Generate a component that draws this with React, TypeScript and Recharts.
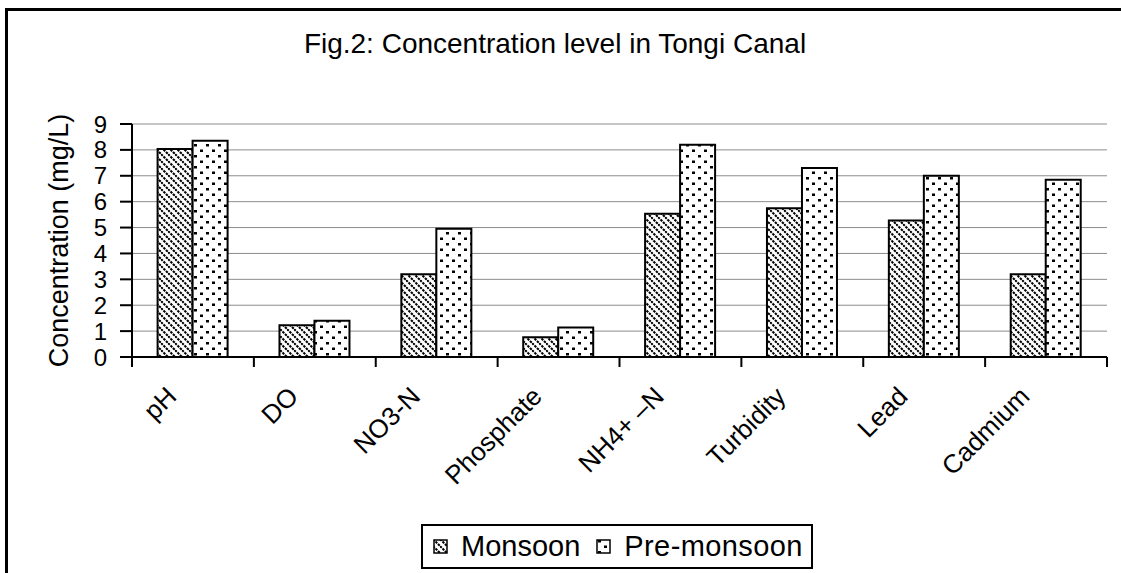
import React from 'react';
import { BarChart, Bar, XAxis, YAxis, CartesianGrid } from 'recharts';

const categories = ['pH', 'DO', 'NO3-N', 'Phosphate', 'NH4+ \u2013N', 'Turbidity', 'Lead', 'Cadmium'];
const monsoon = [8.03, 1.23, 3.2, 0.76, 5.53, 5.75, 5.27, 3.2];
const preMonsoon = [8.35, 1.4, 4.95, 1.14, 8.2, 7.3, 7.0, 6.85];
const yTicks = [0, 1, 2, 3, 4, 5, 6, 7, 8, 9];

const data = categories.map((name, i) => ({ name, monsoon: monsoon[i], pre: preMonsoon[i] }));

const FONT = '"Liberation Sans", Arial, sans-serif';

const Patterns = ({ prefix }: { prefix: string }) => (
  <defs>
    <pattern id={`${prefix}-diag`} patternUnits="userSpaceOnUse" width="7" height="7">
      <rect width="7" height="7" fill="#fff" />
      <path d="M0,0 L7,7 M-2,5 L2,9 M5,-2 L9,2" stroke="#000" strokeWidth="2" strokeDasharray="2.5 1" />
    </pattern>
    <pattern id={`${prefix}-dots`} patternUnits="userSpaceOnUse" width="12" height="11">
      <rect width="12" height="11" fill="#fff" />
      <rect x="2" y="1" width="3" height="2.5" fill="#000" />
      <rect x="8" y="6.5" width="3" height="2.5" fill="#000" />
    </pattern>
  </defs>
);

const XTick = (props: any) => {
  const { x, y, payload, index, visibleTicksCount, width } = props;
  const count = visibleTicksCount || categories.length;
  const half = width ? width / count / 2 : 61;
  const tx = x - 15;
  const ty = y + 41;
  return (
    <g>
      <line x1={x - half} x2={x - half} y1={y} y2={y + 10} stroke="#000" strokeWidth={2} />
      {index === count - 1 && <line x1={x + half} x2={x + half} y1={y} y2={y + 10} stroke="#000" strokeWidth={2} />}
      <text x={tx} y={ty} transform={`rotate(-45 ${tx} ${ty})`} textAnchor="end" fontSize={26} fontFamily={FONT} fill="#000">
        {payload.value}
      </text>
    </g>
  );
};

const LegendIcon = ({ kind }: { kind: string }) => (
  <svg width="15" height="15" style={{ marginRight: 13, flex: 'none' }}>
    <Patterns prefix={`lg-${kind}`} />
    <rect x="1" y="1" width="13" height="13" fill={`url(#lg-${kind}-${kind})`} stroke="#000" strokeWidth="1.5" />
  </svg>
);

export default function App() {
  return (
    <div style={{ position: 'absolute', left: 0, top: 0, width: 1121, height: 573, overflow: 'hidden', background: '#fff' }}>
      <div style={{ position: 'absolute', left: 5, top: 8, width: 1140, height: 620, border: '3px solid #000', boxSizing: 'border-box' }} />
      <div style={{ position: 'absolute', left: 0, top: 28, width: 1110, textAlign: 'center', fontFamily: FONT, fontSize: 28, lineHeight: '32px', color: '#000' }}>
        Fig.2: Concentration level in Tongi Canal
      </div>
      <div style={{ position: 'absolute', left: 0, top: 0 }}>
        <BarChart width={1121} height={573} data={data} margin={{ top: 124, right: 14, left: 0, bottom: 0 }} barGap={0} barCategoryGap="21%">
          <Patterns prefix="ch" />
          <CartesianGrid xAxisId="main" yAxisId="left" horizontal vertical={false} stroke="#8c8c8c" strokeWidth={1} />
          <XAxis xAxisId="main" dataKey="name" height={216} interval={0} tick={<XTick />} tickSize={0} tickMargin={0} tickLine={false} axisLine={{ stroke: '#000', strokeWidth: 2 }} />
          <XAxis xAxisId="top" dataKey="name" orientation="top" height={0} tick={false} tickLine={false} axisLine={{ stroke: '#000', strokeWidth: 2 }} />
          <YAxis
            yAxisId="left"
            domain={[0, 9]}
            ticks={yTicks}
            interval={0}
            width={132}
            tickSize={12}
            tickMargin={13}
            tick={{ fontSize: 24, fontFamily: FONT, fill: '#000' }}
            tickLine={{ stroke: '#000', strokeWidth: 2 }}
            axisLine={{ stroke: '#000', strokeWidth: 2 }}
            label={{ value: 'Concentration (mg/L)', angle: -90, position: 'center', dx: -8, style: { fontSize: 27, fontFamily: FONT, fill: '#000' } }}
          />
          <YAxis yAxisId="right" orientation="right" domain={[0, 9]} width={0} tick={false} tickLine={false} axisLine={{ stroke: '#000', strokeWidth: 2 }} />
          <Bar xAxisId="main" yAxisId="left" dataKey="monsoon" fill="url(#ch-diag)" stroke="#000" strokeWidth={2} isAnimationActive={false} />
          <Bar xAxisId="main" yAxisId="left" dataKey="pre" fill="url(#ch-dots)" stroke="#000" strokeWidth={2} isAnimationActive={false} />
        </BarChart>
      </div>
      <div style={{ position: 'absolute', left: 421, top: 524, width: 392, height: 45, border: '2px solid #000', boxSizing: 'border-box', display: 'flex', alignItems: 'center', justifyContent: 'flex-start', paddingLeft: 10, fontFamily: FONT, fontSize: 29, color: '#000', background: '#fff', whiteSpace: 'nowrap' }}>
        <LegendIcon kind="diag" />
        <span style={{ marginRight: 16 }}>Monsoon</span>
        <LegendIcon kind="dots" />
        <span style={{ letterSpacing: 0.4 }}>Pre-monsoon</span>
      </div>
    </div>
  );
}
